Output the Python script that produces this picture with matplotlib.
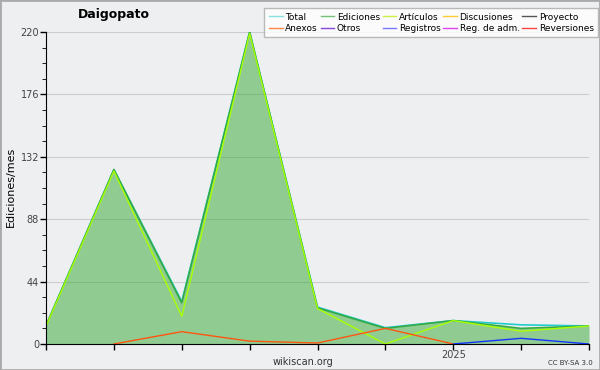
import numpy as np
import matplotlib
matplotlib.use('Agg')
import matplotlib.pyplot as plt
from matplotlib.lines import Line2D

nan = np.nan
months = ['2024-07', '2024-08', '2024-09', '2024-10', '2024-11', '2024-12',
          '2025-01', '2025-02', '2025-03']
tick_labels = ['', '', '', '', '', '', '2025', '', '']

total = [13, 123, 30, 220, 26, 11.5, 16.5, 13.5, 12.7]
ediciones = [13, 123, 29, 220, 25.5, 11, 16.5, 11, 12.7]
articulos = [12.5, 122, 19.5, 219, 25, 0, 16.5, 9, 12.7]
anexos = [nan, 0, 8.7, 2, 0.7, 11, 0, nan, nan]
registros = [nan, nan, nan, nan, nan, nan, 0, 4, 0]

legend_names = ['Total', 'Anexos', 'Ediciones', 'Otros', 'Artículos', 'Registros',
                'Discusiones', 'Reg. de adm.', 'Proyecto', 'Reversiones']
legend_colors = ['#8ae0e0', '#ff8844', '#77c077', '#8844dd', '#ccf044', '#7777ff',
                 '#ffcc33', '#dd44ee', '#555555', '#ff4444']

bg = '#eeeff1'
fig = plt.figure(figsize=(6, 3.7), dpi=100, facecolor=bg)
ax = fig.add_axes([0.0767, 0.0703, 0.905, 0.8432])
ax.set_facecolor(bg)

x = np.arange(len(months))
ax.fill_between(x, ediciones, color='#33aa33', alpha=0.5, lw=0)
ax.plot(x, total, color='#22cccc', lw=1.2)
ax.plot(x, ediciones, color='#33aa44', lw=1.2)
ax.plot(x, articulos, color='#aaff00', lw=1.0)
ax.plot(x, anexos, color='#ff5511', lw=1.0)
ax.plot(x, registros, color='#1133ff', lw=1.0)

ax.set_xlim(0, len(months) - 1)
ax.set_ylim(0, 220)
ax.set_yticks([0, 44, 88, 132, 176, 220])
ax.set_yticks(np.arange(0, 221, 11), minor=True)
ax.set_xticks(x)
ax.set_xticklabels(tick_labels)
ax.grid(axis='y', color='#cccccc', lw=0.8)
ax.set_axisbelow(True)
for s in ['top', 'right']:
    ax.spines[s].set_visible(False)
ax.tick_params(axis='both', labelsize=7, colors='black', labelcolor='#444444', length=4, width=1, pad=1)
ax.tick_params(axis='y', which='minor', length=3)
ax.tick_params(axis='x', length=4, pad=0)

fig.text(0.018, 0.495, 'Ediciones/mes', fontsize=8, rotation=90, ha='center', va='center')
fig.text(0.19, 0.962, 'Daigopato', fontsize=9, fontweight='bold', ha='center', va='center')
fig.text(0.505, 0.022, 'wikiscan.org', fontsize=7, color='#333333', ha='center', va='center')
fig.text(0.951, 0.018, 'CC BY-SA 3.0', fontsize=5, color='#333333', ha='center', va='center')

handles = [Line2D([], [], color=c, lw=1) for c in legend_colors]
leg = fig.legend(handles, legend_names, ncol=5, loc='upper right', bbox_to_anchor=(0.997, 0.978),
                 fontsize=6.5, frameon=True, fancybox=False, handlelength=1.5, handletextpad=0.3,
                 columnspacing=0.3, labelspacing=0.25, borderpad=0.5, borderaxespad=0)
leg.get_frame().set_edgecolor('#aaaaaa')
leg.get_frame().set_linewidth(1)

fig.patches.append(plt.Rectangle((0, 0), 1, 1, transform=fig.transFigure, fill=False,
                                 edgecolor='#aaaaaa', lw=2))
fig.savefig('out.png', dpi=100, facecolor=bg)
